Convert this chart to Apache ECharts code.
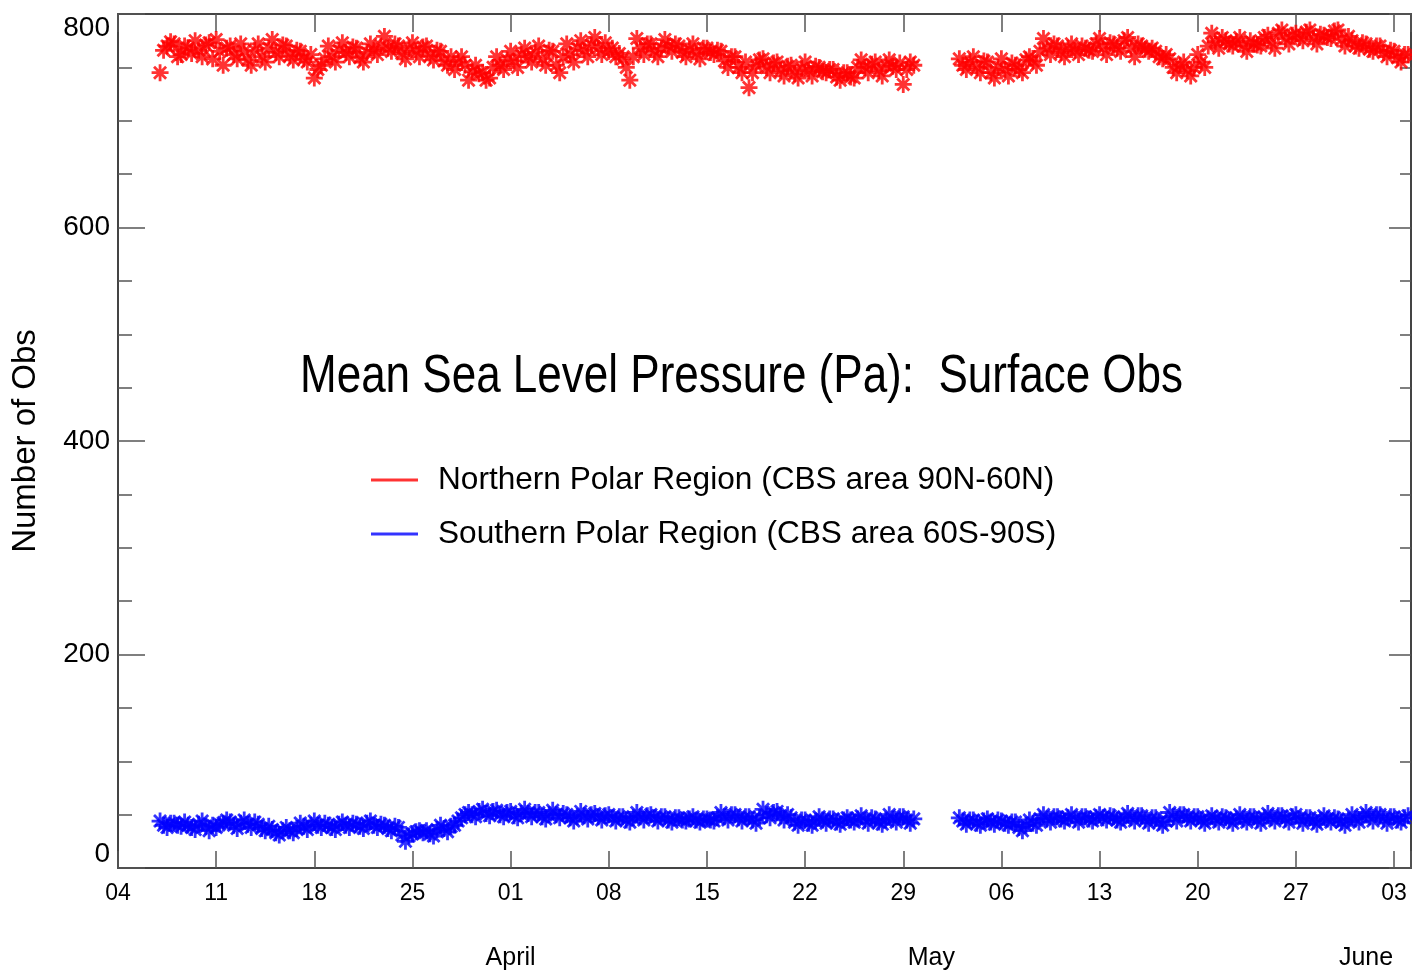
<!DOCTYPE html>
<html>
<head>
    <meta http-equiv="Content-Type" content="text/html; charset=utf-8" />
    <title>Mean Sea Level Pressure (Pa): Surface Obs</title>
    <style type="text/css">
        * {
            margin: 0;
            padding: 0
        }

        html,
        body {
            width: 100%;
            height: 100%;
            background: #fff;
        }

        #chart {
            width: 1412px;
            height: 974px;
        }
    </style>
</head>
<body>
    <div id="chart"></div>
    <script src="https://cdn.jsdelivr.net/npm/echarts@6/dist/echarts.min.js"></script>
    <script>
        // x = days since 04 March, four counts a day (00, 06, 12, 18 UTC)
        const tickLabels = ['04', '11', '18', '25', '01', '08', '15', '22', '29', '06', '13', '20', '27', '03'];
        const monthNames = ['April', 'May', 'June'];
        const monthDays = [28, 58, 89];
        const segmentStart = [3, 60];

        // 07 Mar - 29 Apr
        const north1 = [
            745, 766, 770, 774, 772, 760, 762, 770, 768, 763, 775, 766, 760, 771, 773, 758,
            776, 765, 752, 768, 770, 762, 758, 772, 765, 757, 752, 766, 772, 760, 755, 768,
            776, 764, 760, 771, 770, 761, 757, 766, 765, 758, 755, 762, 740, 748, 752, 758,
            770, 760, 755, 766, 773, 764, 760, 769, 768, 759, 755, 764, 772, 766, 762, 770,
            779, 768, 765, 772, 770, 763, 758, 768, 773, 765, 760, 769, 770, 761, 757, 766,
            765, 756, 752, 760, 748, 755, 760, 752, 738, 746, 752, 744, 745, 738, 740, 750,
            760, 752, 748, 757, 765, 756, 750, 762, 768, 760, 755, 764, 770, 758, 752, 766,
            765, 752, 745, 760, 772, 762, 755, 768, 775, 766, 760, 771, 778, 768, 762, 773,
            765, 768, 760, 763, 758, 750, 738, 760, 777, 768, 762, 772, 772, 765, 760, 768,
            776, 770, 765, 772, 770, 764, 760, 767, 772, 763, 758, 768, 768, 764, 762, 766,
            765, 756, 750, 760, 760, 750, 745, 755, 731, 745, 752, 757, 758, 750, 745, 754,
            755, 747, 742, 751, 752, 744, 740, 749, 755, 747, 742, 751, 750, 746, 745, 748,
            748, 741, 738, 745, 745, 741, 740, 750, 757, 750, 745, 753, 755, 747, 742, 752,
            757, 751, 748, 754, 734, 748, 755, 752
        ];
        // 03 May - 04 Jun
        const north2 = [
            758, 752, 748, 755, 760, 750, 745, 756, 755, 745, 740, 750, 758, 748, 742, 754,
            752, 748, 745, 757, 760, 756, 752, 765, 777, 768, 762, 772, 770, 764, 760, 768,
            772, 766, 762, 770, 768, 766, 765, 772, 777, 768, 762, 773, 772, 768, 765, 775,
            778, 768, 760, 772, 770, 767, 765, 768, 765, 760, 758, 762, 758, 750, 745, 752,
            755, 747, 742, 750, 762, 755, 750, 770, 782, 774, 768, 778, 775, 772, 770, 774,
            778, 770, 765, 775, 772, 771, 770, 778, 780, 773, 768, 782, 785, 777, 772, 780,
            782, 778, 775, 783, 785, 777, 772, 781, 780, 778, 777, 784, 785, 776, 770, 779,
            775, 770, 768, 773, 772, 767, 765, 770, 770, 764, 760, 766, 765, 759, 755, 762,
            762, 759, 758, 760
        ];
        const south1 = [
            44, 40, 38, 42, 42, 40, 39, 43, 40, 38, 36, 41, 44, 39, 35, 40,
            38, 41, 42, 45, 43, 40, 37, 42, 45, 41, 38, 43, 41, 37, 35, 39,
            36, 33, 31, 35, 38, 35, 33, 37, 42, 39, 36, 40, 44, 40, 38, 42,
            40, 38, 36, 41, 43, 40, 38, 42, 41, 39, 37, 42, 44, 40, 38, 41,
            40, 37, 35, 39, 38, 31, 25, 30, 32, 34, 35, 33, 35, 32, 30, 36,
            40, 37, 34, 39, 40, 44, 47, 50, 52, 50, 48, 53, 55, 51, 49, 53,
            54, 50, 48, 52, 53, 49, 47, 51, 55, 51, 48, 52, 52, 48, 46, 50,
            54, 50, 47, 51, 50, 47, 44, 48, 53, 49, 46, 50, 51, 48, 45, 49,
            50, 47, 44, 48, 48, 45, 43, 47, 52, 48, 45, 49, 50, 47, 44, 48,
            48, 45, 43, 47, 47, 45, 44, 46, 48, 45, 43, 46, 46, 45, 44, 47,
            52, 48, 45, 50, 50, 47, 44, 48, 48, 45, 42, 47, 55, 50, 47, 52,
            53, 49, 45, 50, 47, 43, 40, 45, 45, 42, 40, 44, 48, 45, 42, 46,
            46, 43, 41, 45, 47, 45, 43, 46, 49, 45, 42, 47, 46, 43, 41, 45,
            50, 46, 43, 48, 48, 45, 42, 46
        ];
        const south2 = [
            47, 44, 41, 45, 45, 42, 40, 44, 46, 43, 41, 45, 44, 42, 40, 43,
            43, 38, 35, 40, 45, 42, 40, 46, 50, 46, 43, 48, 48, 46, 44, 47,
            50, 46, 43, 48, 48, 46, 44, 47, 50, 47, 45, 49, 48, 45, 43, 47,
            51, 47, 44, 49, 49, 45, 42, 47, 47, 43, 40, 44, 52, 48, 44, 50,
            50, 47, 44, 48, 48, 45, 42, 46, 49, 46, 43, 48, 47, 45, 42, 46,
            50, 46, 43, 48, 48, 45, 42, 47, 51, 47, 44, 49, 49, 46, 43, 48,
            50, 46, 42, 47, 47, 44, 41, 45, 49, 46, 43, 47, 46, 43, 40, 45,
            50, 46, 43, 48, 52, 48, 44, 50, 50, 46, 42, 48, 48, 45, 43, 47,
            49, 46, 44, 48
        ];

        const SANS = '"Liberation Sans", Arial, Helvetica, sans-serif';
        const X_MAX = 92.21;
        const STAR = 'path://M0,8L16,8M8,0L8,16M2.3,2.3L13.7,13.7M13.7,2.3L2.3,13.7';

        const toPoints = (start, vals) => vals.map((v, i) => [start + i * 0.25, v]);
        const northPts = toPoints(segmentStart[0], north1).concat(toPoints(segmentStart[1], north2));
        const southPts = toPoints(segmentStart[0], south1).concat(toPoints(segmentStart[1], south2));

        const axisLine = { show: true, onZero: false, lineStyle: { color: '#444', width: 2 } };
        const tickStyle = { color: '#555', width: 1.5 };

        const chart = echarts.init(document.getElementById('chart'));
        chart.setOption({
            animation: false,
            backgroundColor: '#fff',
            graphic: [{
                type: 'text',
                left: 300,
                top: 350,
                scaleX: 0.815,
                style: {
                    text: 'Mean Sea Level Pressure (Pa):  Surface Obs',
                    fontFamily: SANS,
                    fontSize: 54,
                    fill: '#000'
                }
            }],
            legend: {
                orient: 'vertical',
                left: 366,
                top: 459,
                itemWidth: 47,
                itemHeight: 3,
                itemGap: 22,
                selectedMode: false,
                itemStyle: { borderWidth: 0 },
                textStyle: { fontFamily: SANS, fontSize: 31.6, color: '#000', padding: [0, 0, 0, 15] },
                data: [
                    { name: 'Northern Polar Region (CBS area 90N-60N)', icon: 'rect' },
                    { name: 'Southern Polar Region (CBS area 60S-90S)', icon: 'rect' }
                ]
            },
            grid: { left: 118, right: 1, top: 14, bottom: 106, outerBoundsMode: 'none' },
            xAxis: [
                {
                    type: 'value', position: 'bottom', min: 0, max: X_MAX, interval: 7,
                    axisLine: axisLine,
                    axisTick: { inside: true, length: 17, lineStyle: tickStyle },
                    axisLabel: {
                        margin: 14, fontSize: 23, fontFamily: SANS, color: '#000',
                        formatter: v => {
                            const i = Math.round(v / 7);
                            return Math.abs(v - i * 7) < 1e-6 && tickLabels[i] ? tickLabels[i] : '';
                        }
                    },
                    splitLine: { show: false }
                },
                {
                    type: 'value', position: 'bottom', min: 0, max: X_MAX, interval: 1,
                    axisLine: { show: false }, axisTick: { show: false },
                    axisLabel: {
                        margin: 78, fontSize: 25, fontFamily: SANS, color: '#000',
                        formatter: v => {
                            const k = monthDays.indexOf(Math.round(v));
                            return k >= 0 && Math.abs(v - monthDays[k]) < 1e-6 ? monthNames[k] : '';
                        }
                    },
                    splitLine: { show: false }
                },
                {
                    type: 'value', position: 'top', min: 0, max: X_MAX, interval: 7,
                    axisLine: axisLine,
                    axisTick: { inside: true, length: 18, lineStyle: tickStyle },
                    axisLabel: { show: false },
                    splitLine: { show: false }
                }
            ],
            yAxis: [
                {
                    type: 'value', position: 'left', min: 0, max: 800, interval: 200,
                    name: 'Number of Obs',
                    nameLocation: 'middle',
                    nameGap: 76,
                    nameMoveOverlap: false,
                    nameRotate: 90,
                    nameTextStyle: { fontFamily: SANS, fontSize: 33, color: '#000' },
                    axisLine: axisLine,
                    axisTick: { inside: true, length: 27, lineStyle: tickStyle },
                    minorTick: { show: true, splitNumber: 4, length: 14, lineStyle: tickStyle },
                    axisLabel: {
                        margin: 8, fontSize: 28, fontFamily: SANS, color: '#000',
                        verticalAlignMinLabel: 'bottom', verticalAlignMaxLabel: 'top'
                    },
                    splitLine: { show: false },
                    minorSplitLine: { show: false }
                },
                {
                    type: 'value', position: 'right', min: 0, max: 800, interval: 200,
                    axisLine: axisLine,
                    axisTick: { inside: true, length: 22, lineStyle: tickStyle },
                    minorTick: { show: true, splitNumber: 4, length: 11, lineStyle: tickStyle },
                    axisLabel: { show: false },
                    splitLine: { show: false },
                    minorSplitLine: { show: false }
                }
            ],
            series: [
                {
                    type: 'scatter',
                    name: 'Northern Polar Region (CBS area 90N-60N)',
                    xAxisIndex: 0, yAxisIndex: 0,
                    symbol: STAR, symbolSize: 17,
                    itemStyle: { color: '#ff0000', borderColor: '#ff0000', borderWidth: 2.8 },
                    data: northPts
                },
                {
                    type: 'scatter',
                    name: 'Southern Polar Region (CBS area 60S-90S)',
                    xAxisIndex: 0, yAxisIndex: 0,
                    symbol: STAR, symbolSize: 17,
                    itemStyle: { color: '#0000ff', borderColor: '#0000ff', borderWidth: 2.8 },
                    data: southPts
                }
            ]
        });
    </script>
</body>
</html>
